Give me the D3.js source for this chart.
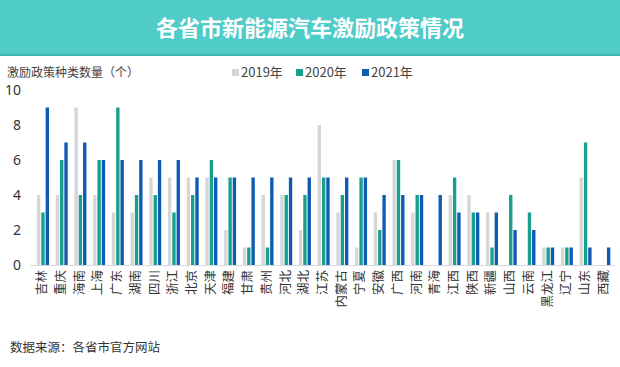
<!DOCTYPE html>
<html>
<head>
<meta charset="utf-8">
<script src="https://cdn.jsdelivr.net/npm/d3@7/dist/d3.min.js"></script>
<style>
html,body{margin:0;padding:0;background:#fff;}
svg{display:block;font-family:"Noto Sans CJK SC","Noto Sans",sans-serif;}
</style>
</head>
<body>
<script>
const categories = ["吉林","重庆","海南","上海","广东","湖南","四川","浙江","北京","天津","福建","甘肃","贵州","河北","湖北","江苏","内蒙古","宁夏","安徽","广西","河南","青海","江西","陕西","新疆","山西","云南","黑龙江","辽宁","山东","西藏"];
const series2019 = [4,4,9,4,3,3,5,5,5,5,2,1,4,4,2,8,3,1,3,6,3,0,4,4,3,0,0,1,1,5,0];
const series2020 = [3,6,4,6,9,4,4,3,4,6,5,1,1,4,4,5,4,5,2,6,4,0,5,3,1,4,3,1,1,7,0];
const series2021 = [9,7,7,6,6,6,6,6,5,5,5,5,5,5,5,5,5,5,4,4,4,4,3,3,3,2,2,1,1,1,1];
const seriesNames = ["2019年","2020年","2021年"];
const colors = ["#D6D6D6","#17A08D","#0E5BB4"];
const yTicks = [0,2,4,6,8,10];
const title = "各省市新能源汽车激励政策情况";
const yLabel = "激励政策种类数量（个）";
const source = "数据来源：各省市官方网站";

const W = 620, H = 367;
const svg = d3.select("body").append("svg").attr("width", W).attr("height", H);

// Title banner
svg.append("rect").attr("x",0).attr("y",0).attr("width",W).attr("height",55).attr("fill","#4FCBC8");
svg.append("rect").attr("x",0).attr("y",54).attr("width",W).attr("height",2).attr("fill","#3DB5B0");
svg.append("text").attr("x",W/2).attr("y",36).attr("text-anchor","middle")
  .attr("fill","#fff").attr("font-size",22).attr("font-weight","bold").text(title);

const x = d3.scaleBand().domain(categories).range([33, 613]);
const xs = d3.scaleBand().domain([0,1,2]).range([4, 16]).paddingInner(0.22);
const y = d3.scaleLinear().domain([0,10]).range([265, 90]);

const data = categories.map((c,i)=>({c, v:[series2019[i],series2020[i],series2021[i]]}));

const g = svg.append("g");
data.forEach(d=>{
  d.v.forEach((v,k)=>{
    g.append("rect")
      .attr("x", x(d.c)+xs(k))
      .attr("width", xs.bandwidth())
      .attr("y", y(v))
      .attr("height", y(0)-y(v))
      .attr("fill", colors[k]);
  });
});

// x axis line
svg.append("line").attr("x1",30).attr("x2",615).attr("y1",265.5).attr("y2",265.5)
  .attr("stroke","#D9D9D9").attr("stroke-width",1);

// y ticks labels
const yAxis = d3.axisLeft(y).tickValues(yTicks).tickSize(0).tickPadding(0);
const ya = svg.append("g").attr("transform","translate(21,0)").call(yAxis);
ya.select(".domain").remove();
ya.selectAll("text").attr("font-size",14).attr("fill","#333")
  .attr("font-family","'Noto Sans','Open Sans',sans-serif");

// x labels (vertical)
categories.forEach(c=>{
  svg.append("text")
    .attr("transform",`translate(${x(c)+x.bandwidth()/2+4},270) rotate(-90)`)
    .attr("text-anchor","end")
    .attr("font-size",12.5).attr("fill","#333")
    .text(c);
});

// y label
svg.append("text").attr("x",7).attr("y",77).attr("font-size",12).attr("fill","#444").text(yLabel);

// legend
const lx = [232, 296, 362];
seriesNames.forEach((n,k)=>{
  svg.append("rect").attr("x",lx[k]).attr("y",69).attr("width",7).attr("height",7).attr("fill",colors[k]);
  svg.append("text").attr("x",lx[k]+9).attr("y",77).attr("font-size",13).attr("fill","#444").text(n);
});

// source
svg.append("text").attr("x",10).attr("y",352).attr("font-size",12.5).attr("fill","#333").text(source);
</script>
</body>
</html>
